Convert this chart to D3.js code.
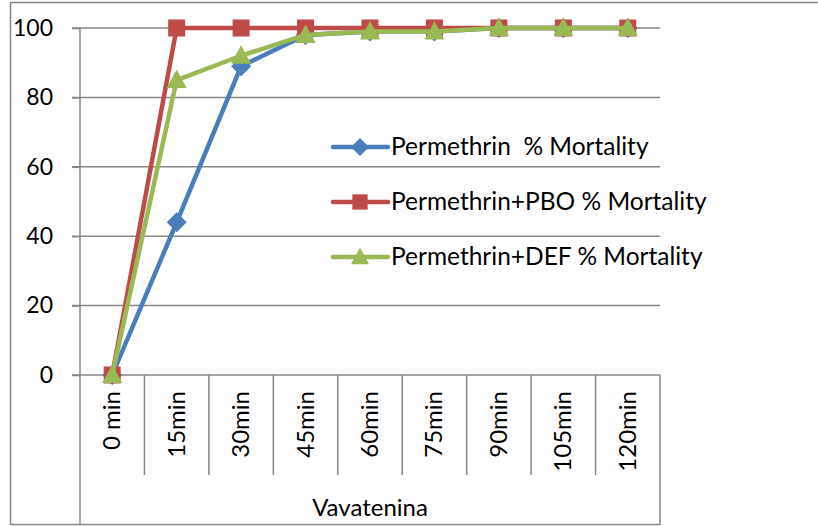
<!DOCTYPE html>
<html>
<head>
<meta charset="utf-8">
<script src="https://cdn.jsdelivr.net/npm/d3@7"></script>
<style>
  body { margin: 0; background: #fff; }
  text { font-family: Lato, "Open Sans", sans-serif; fill: #000; }
</style>
</head>
<body>
<div id="chart"></div>
<script>
var w = 818;
var h = 526;

// data
var categories = ["0 min", "15min", "30min", "45min", "60min", "75min", "90min", "105min", "120min"];
var groupLabel = "Vavatenina";
var permethrin = [0, 44, 89, 98, 99, 99, 100, 100, 100];
var permethrinPBO = [0, 100, 100, 100, 100, 100, 100, 100, 100];
var permethrinDEF = [0, 85, 92, 98, 99, 99, 100, 100, 100];
var seriesNames = ["Permethrin  % Mortality", "Permethrin+PBO % Mortality", "Permethrin+DEF % Mortality"];
var yTicks = [0, 20, 40, 60, 80, 100];

var series = [
  { name: seriesNames[0], values: permethrin, color: "#4a7ebb", marker: "diamond" },
  { name: seriesNames[1], values: permethrinPBO, color: "#be4b48", marker: "square" },
  { name: seriesNames[2], values: permethrinDEF, color: "#98b954", marker: "triangle" }
];

var plotLeft = 80, plotRight = 660, plotTop = 28, plotBottom = 375;
var grey = "#878787";

var svg = d3.select("#chart").append("svg").attr("width", w).attr("height", h);

var x = d3.scaleBand().domain(categories).range([plotLeft, plotRight]);
var y = d3.scaleLinear().domain([0, 100]).range([plotBottom, plotTop]);

// outer chart border (left, top, bottom)
svg.append("path")
  .attr("d", "M" + w + ",2.5 H10.5 V524.5 H" + plotRight)
  .attr("fill", "none")
  .attr("stroke", grey)
  .attr("stroke-width", 1.5);

// gridlines
svg.selectAll("line.grid")
  .data(yTicks.filter(function (d) { return d > 0; }))
  .enter()
  .append("line")
  .attr("x1", plotLeft - 8)
  .attr("x2", plotRight)
  .attr("y1", function (d) { return y(d); })
  .attr("y2", function (d) { return y(d); })
  .attr("stroke", grey)
  .attr("stroke-width", 1.5);

// y axis
var yAxis = svg.append("g")
  .attr("transform", "translate(" + plotLeft + ",0)")
  .call(d3.axisLeft(y).tickValues(yTicks).tickSize(8).tickPadding(19));
yAxis.select(".domain").remove();
yAxis.selectAll("line").attr("stroke", grey).attr("stroke-width", 1.5);
yAxis.selectAll("text")
  .style("font-family", "Lato, 'Open Sans', sans-serif")
  .style("font-size", "23px")
  .attr("fill", "#000");

// y axis line extending into the category table
svg.append("line")
  .attr("x1", plotLeft).attr("x2", plotLeft)
  .attr("y1", plotTop).attr("y2", 525)
  .attr("stroke", grey).attr("stroke-width", 1.5);

// x axis baseline
svg.append("line")
  .attr("x1", plotLeft - 8).attr("x2", plotRight)
  .attr("y1", plotBottom).attr("y2", plotBottom)
  .attr("stroke", grey).attr("stroke-width", 1.5);

// category separators
svg.selectAll("line.sep")
  .data(categories.slice(1))
  .enter()
  .append("line")
  .attr("x1", function (d) { return x(d); })
  .attr("x2", function (d) { return x(d); })
  .attr("y1", plotBottom)
  .attr("y2", 475)
  .attr("stroke", grey)
  .attr("stroke-width", 1.5);

svg.append("line")
  .attr("x1", plotRight).attr("x2", plotRight)
  .attr("y1", plotBottom).attr("y2", 525)
  .attr("stroke", grey).attr("stroke-width", 1.5);

// category labels (rotated)
svg.selectAll("text.cat")
  .data(categories)
  .enter()
  .append("text")
  .text(function (d) { return d; })
  .attr("transform", function (d) {
    return "translate(" + (x(d) + x.bandwidth() / 2 + 8) + ",391) rotate(-90)";
  })
  .attr("text-anchor", "end")
  .attr("font-size", "24px");

svg.append("text")
  .text(groupLabel)
  .attr("x", (plotLeft + plotRight) / 2)
  .attr("y", 516)
  .attr("text-anchor", "middle")
  .attr("font-size", "24px");

// markers
function drawMarker(g, type, color, cx, cy, r) {
  if (type === "square") {
    g.append("rect")
      .attr("x", cx - r * 0.85).attr("y", cy - r * 0.85)
      .attr("width", r * 1.7).attr("height", r * 1.7)
      .attr("fill", color);
  } else if (type === "diamond") {
    g.append("path")
      .attr("d", "M" + cx + "," + (cy - r) + " L" + (cx + r) + "," + cy + " L" + cx + "," + (cy + r) + " L" + (cx - r) + "," + cy + "Z")
      .attr("fill", color);
  } else {
    g.append("path")
      .attr("d", "M" + cx + "," + (cy - r * 1.05) + " L" + (cx + r) + "," + (cy + r * 0.8) + " L" + (cx - r) + "," + (cy + r * 0.8) + "Z")
      .attr("fill", color);
  }
}

var line = d3.line()
  .x(function (d, i) { return x(categories[i]) + x.bandwidth() / 2; })
  .y(function (d) { return y(d); });

series.forEach(function (s) {
  var g = svg.append("g");
  g.append("path")
    .datum(s.values)
    .attr("d", line)
    .attr("fill", "none")
    .attr("stroke", s.color)
    .attr("stroke-width", 4.5)
    .attr("stroke-linejoin", "round");
  s.values.forEach(function (v, i) {
    drawMarker(g, s.marker, s.color, x(categories[i]) + x.bandwidth() / 2, y(v), 10);
  });
});

// legend
var legendY = [147, 202, 257];
series.forEach(function (s, i) {
  var g = svg.append("g");
  g.append("line")
    .attr("x1", 333).attr("x2", 388)
    .attr("y1", legendY[i]).attr("y2", legendY[i])
    .attr("stroke", s.color)
    .attr("stroke-width", 4.5)
    .attr("stroke-linecap", "round");
  drawMarker(g, s.marker, s.color, 360, legendY[i], 9);
  g.append("text")
    .text(s.name)
    .attr("x", 391)
    .attr("y", legendY[i] + 8)
    .attr("font-size", "24.5px")
    .style("white-space", "pre");
});
</script>
</body>
</html>
